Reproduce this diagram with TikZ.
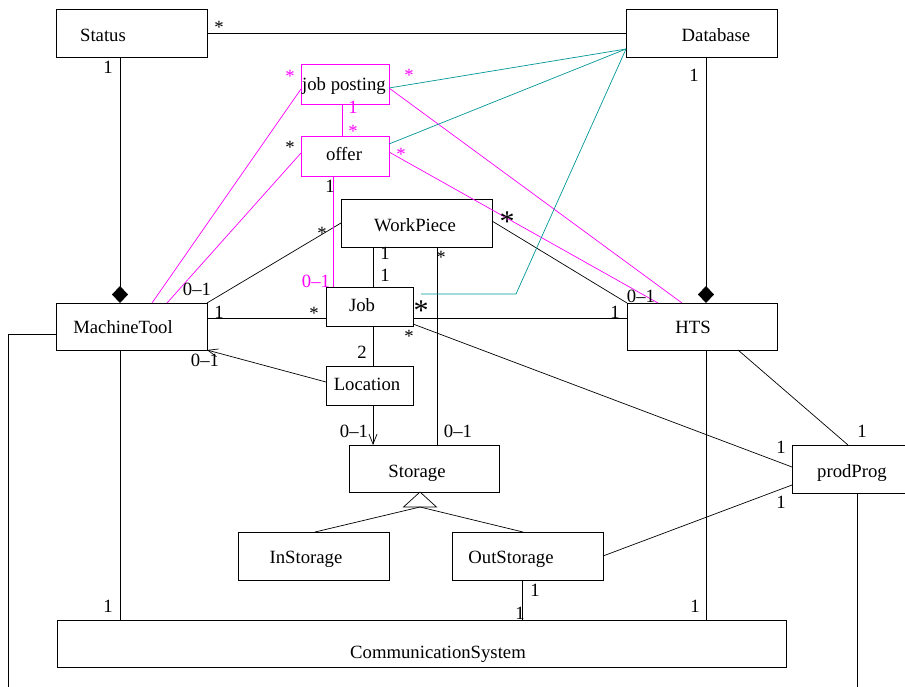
\documentclass[tikz,border=0pt]{standalone}
\usepackage{fontspec}
\setmainfont{Liberation Serif}
\usetikzlibrary{arrows.meta}
\definecolor{mag}{RGB}{255,0,255}
\definecolor{tealc}{RGB}{0,150,150}
\begin{document}
\begin{tikzpicture}[x=1pt,y=-1pt,
  cls/.style 2 args={draw, line width=0.9pt, inner sep=0pt, outer sep=0pt,
    anchor=north west, minimum width=#1, minimum height=#2},
  nm/.style={anchor=base, inner sep=0pt, font=\fontsize{18.7}{22}\selectfont},
  mlt/.style={nm},
  mmag/.style={nm, text=mag},
  bigast/.style={anchor=base, inner sep=0pt, font=\fontsize{30}{32}\selectfont},
  assoc/.style={line width=0.7pt},
  massoc/.style={line width=0.7pt, draw=mag},
  tassoc/.style={line width=0.7pt, draw=tealc},
  comp/.style={line width=0.7pt, -{Diamond[length=17pt,width=16pt]}},
  nav/.style={line width=0.7pt, -{Straight Barb[length=10pt,width=8pt]}},
]
\clip (0,0) rectangle (905,686);

% classes
\node[cls={151}{48}] (status) at (56,9) {};
\node[cls={151}{48}] (database) at (626,9) {};
\node[cls={88}{40}, draw=mag] (jobposting) at (301,64) {};
\node[cls={88}{40}, draw=mag] (offer) at (301,136) {};
\node[cls={151}{48}] (workpiece) at (341,199) {};
\node[cls={87}{39}] (job) at (326,287) {};
\node[cls={87}{39}] (location) at (326,366) {};
\node[cls={151}{47}] (machinetool) at (56,303) {};
\node[cls={150}{47}] (hts) at (627,303) {};
\node[cls={150}{47}] (storage) at (349,445) {};
\node[cls={151}{48}] (instorage) at (238,532) {};
\node[cls={151}{48}] (outstorage) at (452,532) {};
\node[cls={151}{48}] (prodprog) at (792,445) {};
\node[cls={729}{47}] (commsys) at (57,620) {};

% class names
\node[nm] (statusT) at (103,41) {Status};
\node[nm] (databaseT) at (716,41) {Database};
\node[nm] (jobpostingT) at (344,90) {job posting};
\node[nm] (offerT) at (344,160) {offer};
\node[nm] (workpieceT) at (415,231) {WorkPiece};
\node[nm] (jobT) at (362,311) {Job};
\node[nm] (locationT) at (367,390) {Location};
\node[nm] (machinetoolT) at (123,333) {MachineTool};
\node[nm] (htsT) at (693,333) {HTS};
\node[nm] (storageT) at (417,477) {Storage};
\node[nm] (instorageT) at (306,563) {InStorage};
\node[nm] (outstorageT) at (511,563) {OutStorage};
\node[nm] (prodprogT) at (852,477) {prodProg};
\node[nm] (commsysT) at (438,658) {CommunicationSystem};

% free ends of the connectors leaving the page
\coordinate (mtfar) at (8,690);
\coordinate (ppfar) at (857,690);

% compositions
\draw[comp] ([xshift=-11.5pt]status.south) -- ([xshift=-11.5pt]machinetool.north);
\draw[comp] ([xshift=4.5pt]database.south) -- ([xshift=4.5pt]database.south |- hts.north);

% plain associations
\draw[assoc] (status.east) -- (database.west);
\draw[assoc] (machinetool.north east) -- (workpiece.west);
\draw[assoc] ([yshift=8.5pt]machinetool.east) -- ([yshift=8.5pt]machinetool.east -| job.west);
\draw[assoc] ([yshift=-11.5pt]job.east) -- ([yshift=-11.5pt]job.east -| hts.west);
\draw[nav] ([yshift=3.5pt]location.west) -- (machinetool.south east);
\draw[assoc] ([xshift=3.5pt]job.north) -- ([xshift=3.5pt]job.north |- workpiece.south);
\draw[assoc] ([xshift=13pt]storage.north) -- ([xshift=13pt]storage.north |- workpiece.south);
\draw[assoc] ([yshift=2pt]workpiece.east) -- (hts.north west);
\draw[assoc] ([yshift=2pt]job.south east) -- ([yshift=2pt]prodprog.west);
\draw[assoc] ([xshift=3.5pt]location.north) -- ([xshift=3.5pt]location.north |- job.south);
\draw[nav] ([xshift=3.5pt]location.south) -- ([xshift=3.5pt]location.south |- storage.north);
\draw[assoc] (outstorage.east) -- ([yshift=8pt]prodprog.south west);
\draw[assoc] ([xshift=-5.5pt]outstorage.south) -- ([xshift=-5.5pt]outstorage.south |- commsys.north);
\draw[assoc] ([xshift=-11.5pt]machinetool.south) -- ([xshift=-11.5pt]machinetool.south |- commsys.north);
\draw[assoc] ([xshift=4pt]hts.south) -- ([xshift=4pt]hts.south |- commsys.north);
\draw[assoc] ([xshift=36pt]hts.south) -- ([xshift=-19.5pt]prodprog.north);
\draw[assoc] ([xshift=-10.5pt]prodprog.south) -- (ppfar);
\draw[assoc] ([yshift=-7.5pt]machinetool.west) -| (mtfar);

% generalization of Storage
\coordinate (genapex) at ([xshift=-4pt]storage.south);
\coordinate (genbase) at ([xshift=-4pt,yshift=-15pt]storage.south);
\draw[line width=0.7pt, fill=white] (genapex) -- ++(-16.5,15) -- ++(33,0) -- cycle;
\draw[assoc] (genbase) -- ([xshift=1.5pt]instorage.north);
\draw[assoc] (genbase) -- ([xshift=-4.5pt]outstorage.north);

% job posting / offer associations
\draw[massoc] ([xshift=-3pt]jobposting.south) -- ([xshift=-3pt]offer.north);
\draw[massoc] ([yshift=-5pt]jobposting.west) -- ([xshift=20.5pt]machinetool.north);
\draw[massoc] ([yshift=3pt]offer.west) -- ([xshift=35.5pt]machinetool.north);
\draw[massoc] ([yshift=-4pt]jobposting.east) -- ([xshift=-20pt]hts.north);
\draw[massoc] ([yshift=4pt]offer.east) -- ([xshift=-44pt]hts.north);
\draw[massoc] ([xshift=-12pt]offer.south) -- ([xshift=-36.5pt]job.north);

% links to the Database
\coordinate (dbport) at ([yshift=-16pt]database.west);
\coordinate (dbbend) at (516,294);
\draw[tassoc] (dbport) -- ([yshift=-4pt]jobposting.east);
\draw[tassoc] (dbport) -- ([yshift=12pt]offer.east);
\draw[tassoc] (dbport) -- (dbbend) -- ([xshift=8pt,yshift=12.5pt]job.east);

% multiplicities
\node[mlt] (m1) at (219,33) {*};
\node[mlt] (m2) at (290,153) {*};
\node[mlt] (m3) at (322,239) {*};
\node[mlt] (m4) at (441,263) {*};
\node[mlt] (m5) at (314,319) {*};
\node[mlt] (m6) at (409,342) {*};
\node[mmag] (m7) at (290,82) {*};
\node[mmag] (m8) at (353,137) {*};
\node[mmag] (m9) at (409,81) {*};
\node[mmag] (m10) at (401,160) {*};
\node[bigast] (m11) at (421,320) {*};
\node[bigast] (m12) at (507,231) {*};
\node[mlt] (n1) at (108,73) {1};
\node[mlt] (n2) at (330,192) {1};
\node[mlt] (n3) at (694,81) {1};
\node[mlt] (n4) at (385,259) {1};
\node[mlt] (n5) at (385,281) {1};
\node[mlt] (n6) at (219,318) {1};
\node[mlt] (n7) at (615,318) {1};
\node[mlt] (n8) at (535,596) {1};
\node[mlt] (n9) at (520,619) {1};
\node[mlt] (n10) at (108,612) {1};
\node[mlt] (n11) at (695,612) {1};
\node[mlt] (n12) at (862,437) {1};
\node[mlt] (n13) at (781,453) {1};
\node[mlt] (n14) at (781,508) {1};
\node[mmag] (n15) at (353,113) {1};
\node[mlt] (n16) at (362,358) {2};
\node[mlt] (r1) at (197,295) {0–1};
\node[mlt] (r2) at (205,366) {0–1};
\node[mlt] (r3) at (641,302) {0–1};
\node[mlt] (r4) at (354,437) {0–1};
\node[mlt] (r5) at (458,437) {0–1};
\node[mmag] (r6) at (316,287) {0–1};
\end{tikzpicture}
\end{document}
